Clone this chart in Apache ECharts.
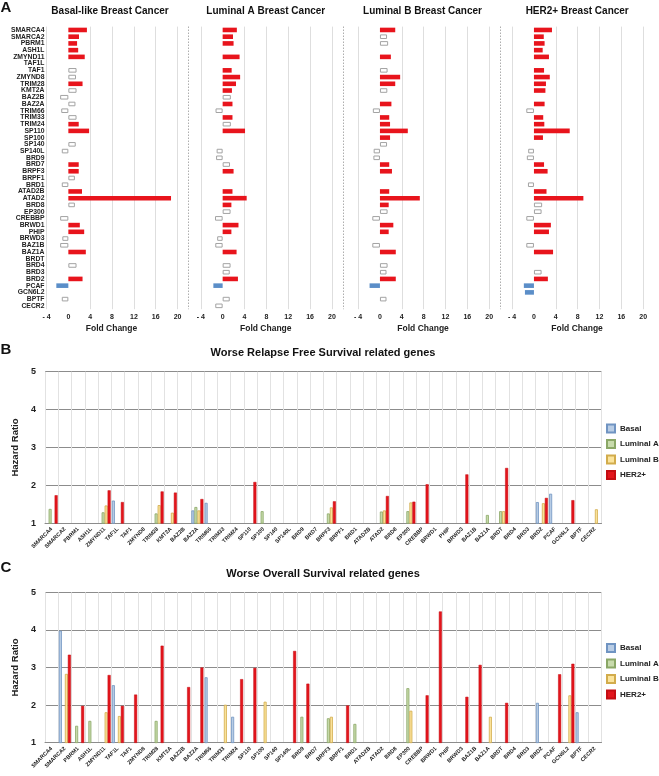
<!DOCTYPE html>
<html><head><meta charset="utf-8">
<script src="https://cdn.jsdelivr.net/npm/echarts@6.0.0/dist/echarts.min.js"></script>
<style>html,body{margin:0;padding:0;background:#fff}#c{width:659px;height:776px}</style>
</head><body><div id="c"></div>
<script>
const _ = null;
const genes = ['SMARCA4','SMARCA2','PBRM1','ASH1L','ZMYND11','TAF1L','TAF1','ZMYND8','TRIM28','KMT2A',
 'BAZ2B','BAZ2A','TRIM66','TRIM33','TRIM24','SP110','SP100','SP140','SP140L','BRD9',
 'BRD7','BRPF3','BRPF1','BRD1','ATAD2B','ATAD2','BRD8','EP300','CREBBP','BRWD1',
 'PHIP','BRWD3','BAZ1B','BAZ1A','BRDT','BRD4','BRD3','BRD2','PCAF','GCN6L2',
 'BPTF','CECR2'];
const subtypeTitles = ['Basal-like Breast Cancer','Luminal A Breast Cancer','Luminal B Breast Cancer','HER2+ Breast Cancer'];
const xTicksA = [-4,0,4,8,12,16,20];
const hrTicks = [1,2,3,4,5];
const legendNames = ['Basal','Luminal A','Luminal B','HER2+'];

// Panel A: fold change, sig = significant (filled)
const fcBasal = [3.4,1.95,1.6,1.8,3.0,_,1.5,1.4,2.6,1.5,
 -1.5,1.3,-1.3,1.5,1.9,3.8,_,1.35,-1.2,_,
 1.9,1.9,1.2,-1.2,2.5,18.8,1.2,_,-1.5,2.1,
 2.9,-1.1,-1.5,3.2,_,1.5,_,2.6,-2.2,_,
 -1.2,_];
const sigBasal = [1,1,1,1,1,0,0,0,1,0, 0,0,0,0,1,1,0,0,0,0, 1,1,0,0,1,1,0,0,0,1, 1,0,0,1,0,0,0,1,1,0, 0,0];
const fcLumA = [2.6,1.9,2.0,_,3.1,_,1.65,3.2,2.45,1.7,
 1.5,1.8,-1.3,1.8,1.5,4.1,_,_,-1.1,-1.2,
 1.35,2.0,_,_,1.8,4.4,1.6,1.45,-1.4,2.9,
 1.6,-1.0,-1.35,2.55,_,1.45,1.3,2.8,-1.7,_,
 1.3,-1.35];
const sigLumA = [1,1,1,0,1,0,1,1,1,1, 0,1,0,1,0,1,0,0,0,0, 0,1,0,0,1,1,1,0,0,1, 1,0,0,1,0,0,0,1,1,0, 0,0];
const fcLumB = [2.8,1.3,1.5,_,2.0,_,1.4,3.7,2.8,1.35,
 _,2.1,-1.3,1.7,1.85,5.1,1.85,1.3,-1.15,-1.2,
 1.7,2.2,_,_,1.7,7.3,1.6,1.4,-1.4,2.45,
 1.6,_,-1.4,2.9,_,1.4,1.2,2.9,-1.9,_,
 1.2,_];
const sigLumB = [1,0,0,0,1,0,0,1,1,0, 0,1,0,1,1,1,1,0,0,0, 1,1,0,0,1,1,1,0,0,1, 1,0,0,1,0,0,0,1,1,0, 0,0];
const fcHER2 = [3.3,1.8,1.95,1.6,2.75,_,1.85,2.9,2.2,2.1,
 _,1.95,-1.4,1.7,1.9,6.55,1.65,_,-1.05,-1.3,
 1.85,2.5,_,-1.1,2.3,9.05,1.5,1.4,-1.4,3.1,
 2.75,_,-1.4,3.5,_,_,1.4,2.55,-1.85,-1.65,
 _,_];
const sigHER2 = [1,1,1,1,1,0,1,1,1,1, 0,1,0,1,1,1,1,0,0,0, 1,1,0,0,1,1,0,0,0,1, 1,0,0,1,0,0,0,1,1,1, 0,0];

// Panel B: relapse free survival hazard ratio
const rfsBasal = [_,_,_,_,_,1.6,_,_,_,_, _,1.34,1.54,_,_,_,_,_,_,_, _,_,_,_,_,_,_,_,_,_, _,_,_,_,_,_,_,1.56,1.78,_, _,_];
const rfsLumA = [1.38,_,_,_,1.29,_,_,_,1.26,_, _,1.43,_,_,_,_,1.32,_,_,_, _,1.26,_,_,_,1.31,_,1.32,_,_, _,_,_,1.22,1.32,_,_,_,_,_, _,_];
const rfsLumB = [_,_,_,_,1.47,_,_,_,1.48,1.28, _,1.34,_,_,_,_,_,_,_,_, _,1.42,_,_,_,1.34,_,1.55,_,_, _,_,_,_,1.32,_,_,1.53,_,_, _,1.37];
const rfsHER2 = [1.74,_,_,_,1.87,1.56,_,_,1.84,1.81, _,1.64,_,_,_,2.09,_,_,_,_, _,1.58,_,_,_,1.72,_,1.57,2.03,_, _,2.29,_,_,2.46,_,_,1.67,_,1.61, _,_];

// Panel C: overall survival hazard ratio
const osBasal = [_,3.98,_,_,_,2.53,_,_,_,_, _,_,2.74,_,1.69,_,_,_,_,_, _,_,_,_,_,_,_,_,_,_, _,_,_,_,_,_,_,2.06,_,_, 1.81,_];
const osLumA = [_,_,1.45,1.58,_,_,_,_,1.58,_, _,_,_,_,_,_,_,_,_,1.69, _,1.65,_,1.5,_,_,_,2.45,_,_, _,_,_,_,_,_,_,_,_,_, _,_];
const osLumB = [_,2.83,_,_,1.81,1.71,_,_,_,_, _,_,_,2.01,_,_,2.09,_,_,_, _,1.69,_,_,_,_,_,1.85,_,_, _,_,_,1.69,_,_,_,_,_,2.26, _,_];
const osHER2 = [_,3.34,1.98,_,2.8,1.98,2.28,_,3.58,_, 2.48,3.0,_,_,2.69,2.99,_,_,3.44,2.57, _,_,1.99,_,_,_,_,_,2.26,4.49, _,2.22,3.07,_,2.06,_,_,_,2.82,3.1, _,_];

const FONT = '"Liberation Sans", Arial, sans-serif';
const RED = '#e8141c', BLUE = '#5b8ec8';
const hrStyles = [
  {color:'#b9cde5', borderColor:'#7094c2', borderWidth:0.8},
  {color:'#c8dbac', borderColor:'#8aa766', borderWidth:0.8},
  {color:'#fbe49c', borderColor:'#d2ac4c', borderWidth:0.8},
  {color:'#e3151c', borderColor:'#c40d12', borderWidth:0.5}
];

const fcSets = [[fcBasal,sigBasal],[fcLumA,sigLumA],[fcLumB,sigLumB],[fcHER2,sigHER2]];
const rfsSets = [rfsBasal, rfsLumA, rfsLumB, rfsHER2];
const osSets = [osBasal, osLumA, osLumB, osHER2];

function itemsA(fc, sig) {
  return fc.map((v,i) => v === null ? null : {
    value: v,
    itemStyle: sig[i] ? {color: v > 0 ? RED : BLUE, borderWidth:0}
                      : {color:'#ffffff', borderColor:'#a3a3a3', borderWidth:1}
  });
}

const gridLeftA = [46.5, 200.8, 358.1, 512.1];
const titleOffA = [63.5, 65, 64.4, 65.1];
const grids = [], xAxes = [], yAxes = [], series = [], graphics = [];
gridLeftA.forEach((l,k) => {
  grids.push({left:l, width:142, top:26.6, height:282.6, containLabel:false, outerBoundsMode:'none'});
  xAxes.push({
    type:'value', gridIndex:k, min:xTicksA[0], max:22, interval:4,
    axisLine:{show:false}, axisTick:{show:false},
    splitLine:{show:true, showMaxLine:false, lineStyle:{color:['#dedede','rgba(0,0,0,0)','#dedede','#dedede','#dedede','#dedede','#dedede'], width:1}},
    axisLabel:{margin:4, fontSize:7, fontWeight:'bold', color:'#222', fontFamily:FONT, showMaxLabel:false,
      formatter: v => v > xTicksA[xTicksA.length-1] ? '' : (v < 0 ? '- ' + (-v) : String(v))},
    name:'Fold Change', nameLocation:'middle', nameGap:15,
    nameTextStyle:{fontSize:8.5, fontWeight:'bold', color:'#222', fontFamily:FONT, padding:[0,12,0,0]}
  });
  yAxes.push({
    type:'category', gridIndex:k, data:genes, inverse:true,
    axisLine:{show:false, onZero:false}, axisTick:{show:false}, splitLine:{show:false},
    axisLabel:{show:k===0, interval:0, margin:2, fontSize:6.8, fontWeight:'bold', color:'#222', fontFamily:FONT}
  });
  const s = {
    type:'bar', name:'fc'+k, xAxisIndex:k, yAxisIndex:k, barWidth:4.6,
    data: itemsA(fcSets[k][0], fcSets[k][1]), silent:true
  };
  if (k < 3) s.markLine = {silent:true, symbol:['none','none'], label:{show:false},
      lineStyle:{type:[1.2,1.8], color:'#9a9a9a', width:1}, data:[{xAxis:22}]};
  series.push(s);
  graphics.push({type:'text', x:l + titleOffA[k], y:11,
    style:{text:subtypeTitles[k], font:'bold 10px ' + FONT, fill:'#111', align:'center', verticalAlign:'middle', textAlign:'center', textVerticalAlign:'middle'}});
});

function hrPanel(idx, top, height, sets) {
  grids.push({left:45, width:556.5, top:top, height:height, containLabel:false, outerBoundsMode:'none'});
  xAxes.push({
    type:'category', gridIndex:idx, data:genes,
    axisLine:{show:true, lineStyle:{color:'#8c8c8c', width:1}}, axisTick:{show:false},
    splitLine:{show:true, interval:0, lineStyle:{color:'#e2e2e2', width:1}},
    axisLabel:{interval:0, rotate:45, margin:5, fontSize:5.5, fontWeight:'bold', color:'#222', fontFamily:FONT}
  });
  yAxes.push({
    type:'value', gridIndex:idx, min:hrTicks[0], max:hrTicks[hrTicks.length-1], interval:1,
    axisLine:{show:false}, axisTick:{show:false},
    splitLine:{show:true, lineStyle:{color:'#8c8c8c', width:1}},
    axisLabel:{margin:9, fontSize:9, fontWeight:'bold', color:'#222', fontFamily:FONT},
    name:'Hazard Ratio', nameLocation:'middle', nameGap:21,
    nameTextStyle:{fontSize:9.5, fontWeight:'bold', color:'#222', fontFamily:FONT}
  });
  sets.forEach((arr,j) => {
    series.push({type:'bar', name:legendNames[j], xAxisIndex:idx, yAxisIndex:idx,
      barWidth:3, barGap:'0%', data:arr, itemStyle:hrStyles[j], silent:true});
  });
}
hrPanel(4, 371.7, 151.6, rfsSets);
hrPanel(5, 592.3, 150.4, osSets);

const letters = [['A',6,8],['B',6,350],['C',6,568]];
letters.forEach(t => graphics.push({type:'text', x:t[1], y:t[2],
  style:{text:t[0], font:'bold 15px ' + FONT, fill:'#111', align:'center', verticalAlign:'middle', textAlign:'center', textVerticalAlign:'middle'}}));
const hrTitles = [['Worse Relapse Free Survival related genes',353],['Worse Overall Survival related genes',574]];
hrTitles.forEach(t => graphics.push({type:'text', x:323, y:t[1],
  style:{text:t[0], font:'bold 11px ' + FONT, fill:'#111', align:'center', verticalAlign:'middle', textAlign:'center', textVerticalAlign:'middle'}}));

function legendAt(top) {
  return {orient:'vertical', left:606, top:top, itemWidth:8, itemHeight:8, itemGap:5.5, icon:'rect',
    selectedMode:false, data:legendNames, padding:0,
    textStyle:{fontSize:8, fontWeight:'bold', color:'#222', fontFamily:FONT, lineHeight:8}};
}

const chart = echarts.init(document.getElementById('c'), null, {renderer:'canvas'});
chart.setOption({
  animation:false,
  backgroundColor:'#ffffff',
  textStyle:{fontFamily:FONT},
  grid:grids, xAxis:xAxes, yAxis:yAxes, series:series,
  legend:[legendAt(423.5), legendAt(643)],
  graphic:graphics
});
</script></body></html>
